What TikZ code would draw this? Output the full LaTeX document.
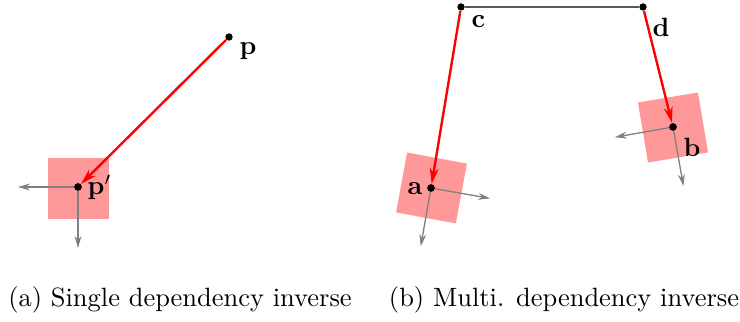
\documentclass[tikz,border=0pt]{standalone}
\usetikzlibrary{arrows.meta,positioning}
\begin{document}
\begin{tikzpicture}[x=0.378pt,y=0.378pt,
    dot/.style={circle,fill=black,inner sep=0pt,minimum size=2.8pt},
    patch/.style={fill=red!40,inner sep=0pt,minimum size=23pt},
    axis/.style={gray,line width=0.5pt,-{Stealth[length=4.5pt,width=2.6pt]}},
    link/.style={red,line width=0.9pt,-{Stealth[length=6pt,width=3.4pt]}},
    lbl/.style={font=\bfseries,anchor=base west,inner sep=0pt}]
    \useasboundingbox (0,0) rectangle (740,322);

    % (a) 单一依赖
    \node[patch] (sqp) at (78.5,133.5) {};
    \node[dot] (pp) at (78,135) {};
    \node[dot] (p) at (229,285) {};
    \path (pp) ++(180:60) coordinate (ppx) (pp) ++(270:61) coordinate (ppy);
    \draw[axis] (pp) -- (ppx);
    \draw[axis] (pp) -- (ppy);
    \draw[link] (p) -- (pp);
    \node[dot] at (pp) {};
    \node[lbl] (plbl) at (239,267) {$\mathbf{p}$};
    \node[lbl] (pplbl) at (87,127) {$\mathbf{p}'$};

    % (b) 多重依赖
    \node[patch,rotate=-10.5] (sqa) at (431.5,134) {};
    \node[patch,rotate=9.5] (sqb) at (673,194.5) {};
    \node[dot] (a) at (431,134) {};
    \node[dot] (b) at (673,195) {};
    \node[dot] (c) at (461,315) {};
    \node[dot] (d) at (643,315) {};
    \path (a) ++(-10:60) coordinate (ax) (a) ++(260:59) coordinate (ay);
    \path (b) ++(190:59) coordinate (bx) (b) ++(280:60) coordinate (by);
    \draw[axis] (a) -- (ax);
    \draw[axis] (a) -- (ay);
    \draw[axis] (b) -- (bx);
    \draw[axis] (b) -- (by);
    \draw[gray!70!black,line width=0.6pt] (c) -- (d);
    \draw[link] (c) -- (a);
    \draw[link] (d) -- (b);
    \node[dot] at (a) {};
    \node[dot] at (b) {};
    \node[lbl] (clbl) at (471,294) {c};
    \node[lbl] (dlbl) at (652,285) {d};
    \node[lbl] (albl) at (407,127) {a};
    \node[lbl] (blbl) at (683,165) {b};

    % 子图标题
    \node (capa) at (180,22) {(a) Single dependency inverse};
    \node (capb) at (564,22) {(b) Multi. dependency inverse};
\end{tikzpicture}
\end{document}
